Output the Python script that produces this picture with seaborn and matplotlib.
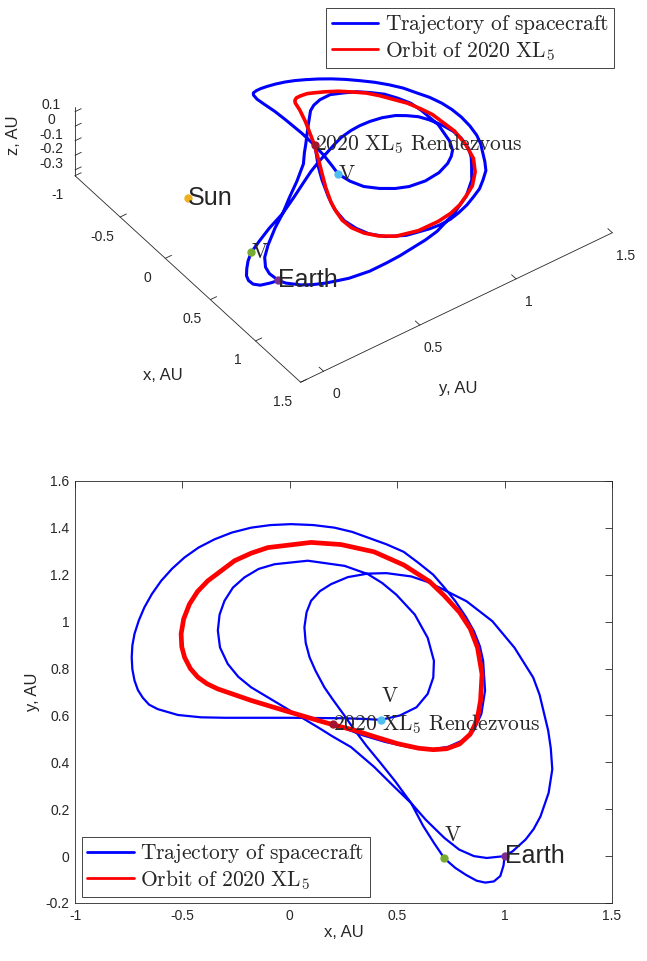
import numpy as np
import matplotlib
matplotlib.use('Agg')
import matplotlib.pyplot as plt
import matplotlib.transforms as mtransforms
from matplotlib.text import Text
import seaborn as sns
import pandas as pd
from mpl_toolkits.mplot3d import proj3d

# ---------------- data (AU) ----------------
# leg 0: launch from Earth, small loop down to the first manoeuvre (green V)
launch_x = [1.000, 0.995, 0.980, 0.950, 0.910, 0.870, 0.820, 0.770, 0.720]
launch_y = [0.000, -0.040, -0.085, -0.108, -0.113, -0.105, -0.080, -0.050, -0.010]
launch_z = [0.000, 0.005, 0.010, 0.015, 0.020, 0.025, 0.030, 0.035, 0.040]

# leg 1: green V -> inner loop -> big right loop -> Earth fly-by
leg1_x = [0.672, 0.620, 0.565, 0.490, 0.420, 0.357, 0.300, 0.250, 0.200, 0.161,
          0.120, 0.092, 0.074, 0.068, 0.078, 0.099, 0.140, 0.192, 0.270, 0.363,
          0.450, 0.565, 0.640, 0.702, 0.823, 0.943, 1.046, 1.133, 1.163, 1.184,
          1.203, 1.215, 1.222, 1.205, 1.167, 1.135, 1.098, 1.038, 1.000]
leg1_y = [0.055, 0.130, 0.226, 0.320, 0.400, 0.470, 0.540, 0.605, 0.668, 0.720,
          0.790, 0.848, 0.910, 0.976, 1.040, 1.089, 1.130, 1.160, 1.190, 1.205,
          1.207, 1.193, 1.170, 1.143, 1.087, 1.002, 0.889, 0.762, 0.688, 0.607,
          0.535, 0.460, 0.370, 0.270, 0.169, 0.115, 0.071, 0.021, 0.000]
leg1_z = [0.050, 0.060, 0.070, 0.080, 0.085, 0.085, 0.080, 0.070, 0.060, 0.050,
          0.030, 0.010, -0.010, -0.030, -0.050, -0.070, -0.080, -0.090, -0.100, -0.100,
          -0.100, -0.100, -0.100, -0.100, -0.100, -0.090, -0.080, -0.070, -0.065, -0.060,
          -0.055, -0.050, -0.045, -0.040, -0.030, -0.025, -0.020, -0.010, 0.000]

# leg 2: Earth -> middle loop -> second manoeuvre (cyan V)
leg2_x = [0.917, 0.857, 0.788, 0.719, 0.633, 0.565, 0.478, 0.392, 0.285, 0.200,
          0.130, -0.025, -0.180, -0.240, -0.289, -0.325, -0.335, -0.327, -0.304, -0.265,
          -0.211, -0.145, -0.071, 0.084, 0.255, 0.363, 0.430, 0.496, 0.582, 0.642,
          0.671, 0.668, 0.642, 0.590, 0.513, 0.423]
leg2_y = [-0.008, 0.000, 0.028, 0.078, 0.155, 0.226, 0.303, 0.381, 0.465, 0.510,
          0.550, 0.635, 0.720, 0.765, 0.820, 0.890, 0.962, 1.030, 1.089, 1.145,
          1.189, 1.225, 1.245, 1.260, 1.238, 1.203, 1.165, 1.115, 1.030, 0.931,
          0.833, 0.762, 0.692, 0.635, 0.600, 0.581]
leg2_z = [0.005, 0.010, 0.020, 0.035, 0.055, 0.070, 0.085, 0.095, 0.100, 0.100,
          0.095, 0.080, 0.040, 0.015, -0.010, -0.040, -0.080, -0.110, -0.140, -0.165,
          -0.190, -0.210, -0.230, -0.250, -0.250, -0.230, -0.210, -0.190, -0.150, -0.110,
          -0.070, -0.040, -0.010, 0.010, 0.025, 0.035]

# leg 3: cyan V -> outer loop -> join the asteroid orbit -> rendezvous
leg3_x = [0.350, 0.250, 0.130, 0.000, -0.180, -0.300, -0.413, -0.521, -0.615, -0.655,
          -0.684, -0.707, -0.723, -0.733, -0.736, -0.733, -0.723, -0.703, -0.677, -0.642,
          -0.599, -0.548, -0.490, -0.425, -0.351, -0.270, -0.180, -0.090, 0.006, 0.110,
          0.208, 0.290, 0.363, 0.450, 0.530, 0.600, 0.668, 0.720, 0.771, 0.820,
          0.857, 0.885, 0.900, 0.909, 0.892, 0.857, 0.806, 0.737, 0.651, 0.565,
          0.444, 0.341, 0.272, 0.203]
leg3_y = [0.585, 0.588, 0.589, 0.590, 0.590, 0.590, 0.592, 0.602, 0.627, 0.646,
          0.675, 0.708, 0.749, 0.797, 0.848, 0.898, 0.948, 1.005, 1.061, 1.118,
          1.174, 1.226, 1.274, 1.316, 1.351, 1.380, 1.401, 1.412, 1.416, 1.412,
          1.401, 1.383, 1.359, 1.330, 1.298, 1.250, 1.200, 1.145, 1.087, 1.020,
          0.960, 0.895, 0.833, 0.706, 0.607, 0.536, 0.494, 0.466, 0.454, 0.463,
          0.487, 0.515, 0.539, 0.562]
leg3_z = [0.045, 0.060, 0.070, 0.070, 0.060, 0.050, 0.030, 0.000, -0.040, -0.060,
          -0.080, -0.100, -0.120, -0.140, -0.160, -0.180, -0.200, -0.220, -0.240, -0.260,
          -0.280, -0.295, -0.310, -0.322, -0.335, -0.338, -0.340, -0.340, -0.340, -0.340,
          -0.340, -0.340, -0.340, -0.340, -0.335, -0.330, -0.320, -0.310, -0.300, -0.285,
          -0.270, -0.250, -0.230, -0.190, -0.145, -0.100, -0.065, -0.035, 0.005, 0.035,
          0.065, 0.085, 0.105, 0.125]

# orbit of 2020 XL5
orb_x = [0.203, 0.300, 0.400, 0.500, 0.600, 0.668, 0.730, 0.790, 0.840, 0.872,
         0.888, 0.895, 0.874, 0.840, 0.790, 0.720, 0.651, 0.530, 0.392, 0.238,
         0.099, -0.102, -0.180, -0.257, -0.382, -0.430, -0.467, -0.494, -0.506, -0.503,
         -0.490, -0.463, -0.428, -0.385, -0.335, -0.180, -0.025, 0.130, 0.203]
orb_y = [0.560, 0.537, 0.508, 0.480, 0.460, 0.454, 0.458, 0.478, 0.520, 0.580,
         0.663, 0.776, 0.889, 0.970, 1.040, 1.110, 1.171, 1.242, 1.298, 1.329,
         1.338, 1.316, 1.292, 1.260, 1.174, 1.128, 1.075, 1.012, 0.948, 0.893,
         0.848, 0.800, 0.763, 0.735, 0.713, 0.664, 0.621, 0.579, 0.560]
orb_z = [0.125, 0.090, 0.070, 0.050, 0.020, 0.000, -0.030, -0.060, -0.095, -0.135,
         -0.180, -0.210, -0.230, -0.245, -0.260, -0.275, -0.290, -0.310, -0.330, -0.340,
         -0.335, -0.320, -0.310, -0.295, -0.260, -0.240, -0.220, -0.190, -0.160, -0.130,
         -0.100, -0.070, -0.040, -0.015, 0.010, 0.080, 0.115, 0.125, 0.125]

# labelled points: Sun, Earth, V (green), V (cyan), rendezvous
pt_x = [0.0, 1.0, 0.720, 0.423, 0.203]
pt_y = [0.0, 0.0, -0.010, 0.581, 0.562]
pt_z = [0.0, 0.0, 0.040, 0.035, 0.125]
pt_colors = ['#EDB120', '#7E2F8E', '#77AC30', '#4DBEEE', '#A2142F']

leg_labels = [r'$\mathrm{Trajectory\ of\ spacecraft}$', r'$\mathrm{Orbit\ of\ 2020\ XL_5}$']
rdv_label = r'$\mathrm{2020\ XL_5\ Rendezvous}$'
v_label = r'$\mathrm{V}$'

x2_ticks = [-1, -0.5, 0, 0.5, 1, 1.5]
x2_ticklabels = ['-1', '-0.5', '0', '0.5', '1', '1.5']
y2_ticks = [-0.2, 0, 0.2, 0.4, 0.6, 0.8, 1.0, 1.2, 1.4, 1.6]
y2_ticklabels = ['-0.2', '0', '0.2', '0.4', '0.6', '0.8', '1', '1.2', '1.4', '1.6']
x3_ticks = [-1, -0.5, 0, 0.5, 1, 1.5]
x3_ticklabels = ['-1', '-0.5', '0', '0.5', '1', '1.5']
y3_ticks = [0, 0.5, 1, 1.5]
y3_ticklabels = ['0', '0.5', '1', '1.5']
z3_ticks = [-0.3, -0.2, -0.1, 0, 0.1]
z3_ticklabels = ['-0.3', '-0.2', '-0.1', '0', '0.1']

traj_x = launch_x + leg1_x + leg2_x + leg3_x
traj_y = launch_y + leg1_y + leg2_y + leg3_y
traj_z = launch_z + leg1_z + leg2_z + leg3_z

# ---------------- style ----------------
sns.set_theme(style='white')
plt.rcParams['font.family'] = ['Liberation Sans', 'DejaVu Sans']
plt.rcParams['mathtext.fontset'] = 'cm'

W, H = 647, 961
fig = plt.figure(figsize=(W / 100, H / 100), dpi=100)
fig.patch.set_facecolor('white')

BLUE = (0, 0, 1)
RED = (1, 0, 0)
INK = '#262626'
LEG_KW = dict(fontsize=15.5, frameon=True, fancybox=False, framealpha=1,
              edgecolor=INK, handlelength=2.15, borderpad=0.25,
              labelspacing=0.12, handletextpad=0.3, borderaxespad=0)

# ---------------- bottom: 2D view ----------------
ax2 = fig.add_axes([75 / W, 1 - 903 / H, 537 / W, 422 / H])
traj_df = pd.DataFrame({'x': traj_x, 'y': traj_y})
orb_df = pd.DataFrame({'x': orb_x, 'y': orb_y})
sns.lineplot(data=traj_df, x='x', y='y', sort=False, estimator=None,
             color=BLUE, lw=1.6, ax=ax2, label=leg_labels[0], zorder=2)
sns.lineplot(data=orb_df, x='x', y='y', sort=False, estimator=None,
             color=RED, lw=3.4, ax=ax2, label=leg_labels[1], zorder=3)
for i in range(len(pt_x)):
    ax2.plot([pt_x[i]], [pt_y[i]], 'o', color=pt_colors[i], ms=5, zorder=4)
ax2.text(pt_x[1], pt_y[1], 'Earth', fontsize=18, ha='left', va='center', zorder=5)
ax2.text(pt_x[2], pt_y[2] + 0.1, v_label, fontsize=15.5, ha='left', va='center', zorder=5)
ax2.text(pt_x[3], pt_y[3] + 0.1, v_label, fontsize=15.5, ha='left', va='center', zorder=5)
ax2.text(pt_x[4], pt_y[4], rdv_label, fontsize=15.5, ha='left', va='center', zorder=5)

ax2.set_xlim(-1, 1.5)
ax2.set_ylim(-0.2, 1.6)
ax2.set_xticks(x2_ticks)
ax2.set_xticklabels(x2_ticklabels)
ax2.set_yticks(y2_ticks)
ax2.set_yticklabels(y2_ticklabels)
ax2.tick_params(direction='in', top=True, right=True, length=5, width=0.6,
                labelsize=10, colors=INK, pad=4)
for s in ax2.spines.values():
    s.set_color(INK)
    s.set_linewidth(0.6)
ax2.set_xlabel('x, AU', fontsize=12, color=INK, labelpad=2)
ax2.set_ylabel('y, AU', fontsize=12, color=INK, labelpad=4)
leg2 = ax2.legend(loc='lower left', bbox_to_anchor=(0.013, 0.014), **LEG_KW)
leg2.get_frame().set_linewidth(0.6)
leg2.set_zorder(10)
for ln in leg2.get_lines():
    ln.set_linewidth(2)

# ---------------- top: 3D view ----------------
XL3, YL3, ZL3 = (-1.0, 1.5), (-0.119, 1.5), (-0.34, 0.134)
ax3 = fig.add_axes([0.0, 0.5, 1.0, 0.5], projection='3d', computed_zorder=False)
ax3.set_proj_type('ortho')
ax3.view_init(elev=41.5, azim=-35.9)
ax3.set_box_aspect((1, 1.0, 0.2394))
ax3.set_xlim(*XL3)
ax3.set_ylim(*YL3)
ax3.set_zlim(*ZL3)

l1, = ax3.plot(traj_x, traj_y, traj_z, color=BLUE, lw=2.2, zorder=2)
l2, = ax3.plot(orb_x, orb_y, orb_z, color=RED, lw=2.6, zorder=3)
for i in range(len(pt_x)):
    ax3.plot([pt_x[i]], [pt_y[i]], [pt_z[i]], 'o', color=pt_colors[i], ms=5, zorder=4)
ax3.text(pt_x[0], pt_y[0], pt_z[0], 'Sun', fontsize=18, ha='left', va='center', zorder=5)
ax3.text(pt_x[1], pt_y[1], pt_z[1], 'Earth', fontsize=18, ha='left', va='center', zorder=5)
ax3.text(pt_x[2], pt_y[2], pt_z[2], v_label, fontsize=15.5, ha='left', va='center', zorder=5)
ax3.text(pt_x[3], pt_y[3], pt_z[3], v_label, fontsize=15.5, ha='left', va='center', zorder=5)
ax3.text(pt_x[4], pt_y[4], pt_z[4], rdv_label, fontsize=15.5, ha='left', va='center', zorder=5)

ax3.grid(False)
for a in (ax3.xaxis, ax3.yaxis, ax3.zaxis):
    a.set_pane_color((1, 1, 1, 0))
    a.pane.set_edgecolor((1, 1, 1, 0))
    a.line.set_color(INK)
    a.line.set_linewidth(0.6)
    a._axinfo['tick']['inward_factor'] = 0.0
    a._axinfo['tick']['outward_factor'] = 0.25
    a._axinfo['tick']['linewidth'] = {True: 0.6, False: 0.6}
    a.label.set_visible(False)
    a.offsetText.set_visible(False)
for t in (ax3.title, ax3._left_title, ax3._right_title):
    t.set_visible(False)
ax3.zaxis.set_ticks_position('lower')
ax3.set_xticks(x3_ticks)
ax3.set_xticklabels(x3_ticklabels)
ax3.set_yticks(y3_ticks)
ax3.set_yticklabels(y3_ticklabels)
ax3.set_zticks(z3_ticks)
ax3.set_zticklabels(z3_ticklabels)
ax3.tick_params(labelsize=10, colors=INK)


def _no_text(*args, **kwargs):
    return None


def _patch_ticks(axis, shift=None):
    """Keep the unused second tick labels empty; optionally shift label1."""
    orig = axis.get_major_ticks

    def patched(numticks=None):
        ticks = orig(numticks)
        for t in ticks:
            if t.label2.get_text() != '':
                Text.set_text(t.label2, '')
            t.label2.set_text = _no_text
            t.label2.set_visible(False)
            if shift is not None:
                t.label1.set_transform(ax3.transData + shift)
        return ticks

    axis.get_major_ticks = patched


_patch_ticks(ax3.xaxis)
_patch_ticks(ax3.yaxis)
# nudge the z tick labels to sit where the reference has them
_patch_ticks(ax3.zaxis, mtransforms.ScaledTranslation(7 / 100, 10 / 100, fig.dpi_scale_trans))

fig.text(163 / W, 1 - 375 / H, 'x, AU', fontsize=12, color=INK, ha='center', va='center')
fig.text(458 / W, 1 - 388 / H, 'y, AU', fontsize=12, color=INK, ha='center', va='center')
fig.text(13 / W, 1 - 135 / H, 'z, AU', fontsize=12, color=INK, ha='center', va='center',
         rotation=90)

leg3 = fig.legend([l1, l2], leg_labels, loc='upper right',
                  bbox_to_anchor=(614 / W, 1 - 8 / H), bbox_transform=fig.transFigure,
                  **LEG_KW)
leg3.get_frame().set_linewidth(0.6)
for ln in leg3.get_lines():
    ln.set_linewidth(2)

# fit the 3D box onto the reference layout (corner pixel positions)
ref_pts = np.array([[XL3[0], YL3[0], ZL3[0]], [XL3[1], YL3[0], ZL3[0]],
                    [XL3[1], YL3[1], ZL3[0]], [XL3[0], YL3[0], ZL3[1]]])
ref_pix = np.array([[75, H - 175.7], [300.7, H - 382.3], [612.3, H - 232.7], [75, H - 106.7]])
for _ in range(3):
    fig.canvas.draw()
    xs, ys, _z = proj3d.proj_transform(ref_pts[:, 0], ref_pts[:, 1], ref_pts[:, 2], ax3.get_proj())
    d = ax3.transData.transform(np.column_stack([xs, ys]))
    dc = d.mean(axis=0)
    tc = ref_pix.mean(axis=0)
    s = np.sqrt(((ref_pix - tc) ** 2).sum() / ((d - dc) ** 2).sum())
    bb = ax3.get_position().transformed(fig.transFigure)
    c = np.array([(bb.x0 + bb.x1) / 2, (bb.y0 + bb.y1) / 2])
    side = bb.width * s
    nc = tc - (dc - c) * s
    ax3.set_position([(nc[0] - side / 2) / W, (nc[1] - side / 2) / H, side / W, side / H])

fig.savefig('out.png', dpi=100)
